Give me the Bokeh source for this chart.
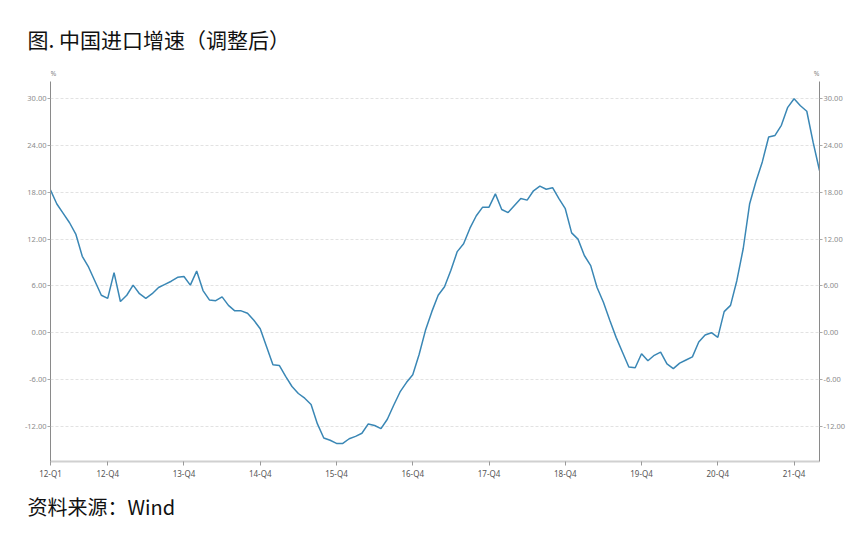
from bokeh.plotting import figure
from bokeh.models import (ColumnDataSource, Range1d, LinearAxis, FixedTicker,
                          NumeralTickFormatter, Label, Title)
from bokeh.embed import file_html
from bokeh.resources import INLINE

# monthly series, Jan 2012 .. Feb 2022 (%)
import_growth = [
    18.3, 16.5, 15.3, 14.1, 12.6, 9.8, 8.4, 6.6, 4.8, 4.4, 7.7, 4.0,
    4.8, 6.1, 5.0, 4.4, 5.0, 5.8, 6.2, 6.6, 7.1, 7.2, 6.1, 7.9,
    5.4, 4.2, 4.1, 4.6, 3.5, 2.8, 2.8, 2.5, 1.6, 0.5, -1.8, -4.1,
    -4.2, -5.6, -6.9, -7.8, -8.4, -9.2, -11.7, -13.5, -13.8, -14.2, -14.2, -13.6,
    -13.3, -12.9, -11.7, -11.9, -12.3, -11.1, -9.3, -7.6, -6.4, -5.4, -2.8, 0.3,
    2.7, 4.8, 5.9, 8.0, 10.4, 11.4, 13.4, 15.0, 16.1, 16.1, 17.8, 15.8,
    15.4, 16.3, 17.2, 17.0, 18.2, 18.8, 18.4, 18.6, 17.2, 15.9, 12.8, 12.0,
    9.9, 8.6, 5.8, 3.9, 1.6, -0.6, -2.5, -4.4, -4.5, -2.7, -3.6, -2.9,
    -2.5, -4.0, -4.6, -3.9, -3.5, -3.1, -1.2, -0.3, 0.0, -0.6, 2.7, 3.5,
    6.7, 10.8, 16.5, 19.4, 21.9, 25.1, 25.3, 26.6, 28.9, 30.0, 29.1, 28.4,
    24.4, 20.8,
]
month_idx = list(range(len(import_growth)))

tick_pos = [0, 9, 21, 33, 45, 57, 69, 81, 93, 105, 117]
tick_labels = ["12-Q1", "12-Q4", "13-Q4", "14-Q4", "15-Q4", "16-Q4",
               "17-Q4", "18-Q4", "19-Q4", "20-Q4", "21-Q4"]
y_ticks = [-12, -6, 0, 6, 12, 18, 24, 30]

title_text = "图. 中国进口增速（调整后）"
source_text = "资料来源：Wind"

x_lo, x_hi = 0, 121
y_lo, y_hi = -16.52, 32.2

src = ColumnDataSource(data=dict(x=month_idx, y=import_growth))

p = figure(width=858, height=540, output_backend="svg", toolbar_location=None,
           x_range=Range1d(x_lo, x_hi), y_range=Range1d(y_lo, 34.91),
           min_border_left=50, min_border_right=39, min_border_top=60,
           min_border_bottom=79, outline_line_color=None)

p.line('x', 'y', source=src, line_color="#3a87b5", line_width=1.5)

tick_font = "Noto Sans"

# x axis
xa = p.xaxis[0]
xa.ticker = FixedTicker(ticks=tick_pos)
xa.major_label_overrides = {t: l for t, l in zip(tick_pos, tick_labels)}
xa.axis_line_color = "#d0d0d0"
xa.axis_line_width = 2
xa.major_tick_line_color = "#999999"
xa.major_tick_out = 4
xa.major_tick_in = 0
xa.minor_tick_line_color = None
xa.major_label_standoff = 2
xa.major_label_text_font = tick_font
xa.major_label_text_font_size = "8px"
xa.major_label_text_color = "#555555"

# y axes left and right (axis lines stop below the % marks)
ya = p.yaxis[0]
ra = LinearAxis()
p.add_layout(ra, "right")
for ax in (ya, ra):
    ax.bounds = (y_lo, y_hi)
    ax.ticker = FixedTicker(ticks=y_ticks)
    ax.formatter = NumeralTickFormatter(format="0.00")
    ax.axis_line_color = "#8a8a8a"
    ax.major_tick_line_color = "#aaaaaa"
    ax.major_tick_out = 3
    ax.major_tick_in = 0
    ax.minor_tick_line_color = None
    ax.major_label_standoff = 1
    ax.major_label_text_font = tick_font
    ax.major_label_text_font_size = "7.5px"
    ax.major_label_text_color = "#8c8c8c"

p.xgrid.grid_line_color = None
p.ygrid.ticker = FixedTicker(ticks=y_ticks)
p.ygrid.grid_line_color = "#e2e2e2"
p.ygrid.grid_line_dash = "3 2"

p.add_layout(Label(x=x_lo, y=33.3, text="%", text_align="left",
                   text_baseline="middle", text_font=tick_font,
                   text_font_size="7px", text_color="#888888"))
p.add_layout(Label(x=x_hi, y=33.3, text="%", text_align="right",
                   text_baseline="middle", text_font=tick_font,
                   text_font_size="7px", text_color="#888888"))

p.add_layout(Title(text=title_text, align="left", offset=-23, standoff=14,
                   text_font="Noto Sans CJK SC", text_font_size="21px",
                   text_font_style="normal", text_color="#111111"), "above")
p.add_layout(Title(text=source_text, align="left", offset=-23, standoff=17,
                   text_font="Noto Sans CJK SC", text_font_size="20px",
                   text_font_style="normal", text_color="#111111"), "below")

open("out.html", "w").write(file_html(p, INLINE))
